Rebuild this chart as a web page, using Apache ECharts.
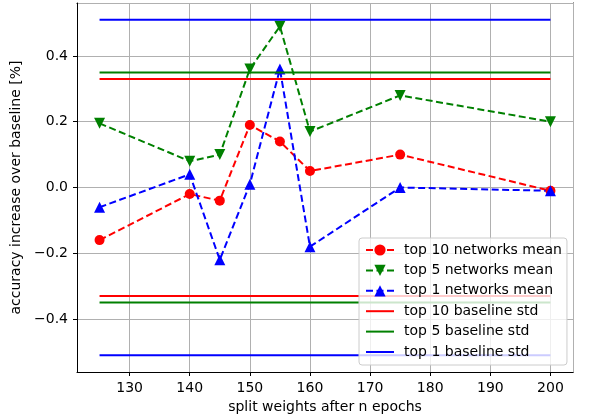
<!DOCTYPE html>
<html>
<head>
<meta charset="utf-8">
<script src="https://cdn.jsdelivr.net/npm/echarts@6/dist/echarts.min.js"></script>
<style>
  html, body { margin: 0; padding: 0; background: #fff; }
  #chart { width: 598px; height: 415px; }
</style>
</head>
<body>
<div id="chart"></div>
<script>
// epochs after which the weights were split
const epochs = [125, 140, 145, 150, 155, 160, 175, 200]
// mean accuracy increase over baseline [%]
const top10Mean = [-0.16, -0.02, -0.04, 0.19, 0.14, 0.05, 0.10, -0.01]
const top5Mean = [0.195, 0.08, 0.10, 0.36, 0.49, 0.17, 0.28, 0.20]
const top1Mean = [-0.06, 0.04, -0.22, 0.01, 0.36, -0.18, 0.00, -0.01]
// baseline std (drawn as +/- lines)
const top10Std = 0.33
const top5Std = 0.35
const top1Std = 0.51
const stdRange = [125, 200]

const FONT = 'DejaVu Sans'

const chart = echarts.init(document.getElementById('chart'))

const pair = (xs, ys) => xs.map((x, i) => [x, ys[i]])
const hline = (y) => stdRange.map(x => [x, y])

const meanSeries = (name, color, symbol, size, values) => ({
  name: name,
  type: 'line',
  data: pair(epochs, values),
  symbol: symbol,
  symbolSize: size,
  showSymbol: true,
  itemStyle: { color: color },
  lineStyle: { color: color, width: 2, type: [7, 3.5] },
  animation: false,
  z: 2
})

const stdSeries = (name, color, y) => ({
  name: name,
  type: 'line',
  data: hline(y),
  symbol: 'none',
  itemStyle: { color: color },
  lineStyle: { color: color, width: 2 },
  animation: false,
  z: 3
})

const triDown = 'path://M0,0 L10,0 L5,9 Z'
const lineIcon = 'path://M0,0 L28,0 L28,2 L0,2 Z'

// frame-only axes on top / right so the box is black on all sides
const frameAxis = {
  show: true,
  axisLine: { show: true, onZero: false, lineStyle: { color: '#000', width: 1 } },
  axisTick: { show: false },
  axisLabel: { show: false },
  splitLine: { show: false }
}

chart.setOption({
  backgroundColor: '#fff',
  textStyle: { fontFamily: FONT },
  grid: {
    left: 77, top: 3, right: 25, bottom: 43,
    outerBoundsMode: 'none',
    containLabel: false
  },
  xAxis: [{
    type: 'value',
    min: 121.25, max: 203.75,
    splitNumber: 8, minInterval: 10, maxInterval: 10,
    name: 'split weights after n epochs',
    nameLocation: 'middle',
    nameGap: 27,
    nameTextStyle: { fontFamily: FONT, fontSize: 14, color: '#000' },
    axisLine: { show: true, onZero: false, lineStyle: { color: '#000', width: 1 } },
    axisTick: { show: true, inside: false, length: 4, lineStyle: { color: '#000' } },
    axisLabel: {
      margin: 9, fontFamily: FONT, fontSize: 14, color: '#000',
      showMinLabel: false, showMaxLabel: false
    },
    splitLine: { show: true, lineStyle: { color: '#b0b0b0', width: 1 } },
    z: 1
  }, Object.assign({ type: 'value', position: 'top', min: 121.25, max: 203.75 }, frameAxis)],
  yAxis: [{
    type: 'value',
    min: -0.561, max: 0.561,
    splitNumber: 5, minInterval: 0.2, maxInterval: 0.2,
    name: 'accuracy increase over baseline [%]',
    nameLocation: 'middle',
    nameGap: 44,
    nameTextStyle: { fontFamily: FONT, fontSize: 14, color: '#000' },
    axisLine: { show: true, onZero: false, lineStyle: { color: '#000', width: 1 } },
    axisTick: { show: true, inside: false, length: 4, lineStyle: { color: '#000' } },
    axisLabel: {
      margin: 9, fontFamily: FONT, fontSize: 14, color: '#000',
      showMinLabel: false, showMaxLabel: false,
      formatter: v => (v < -1e-9 ? '\u2212' : '') + Math.abs(v).toFixed(1)
    },
    splitLine: { show: true, lineStyle: { color: '#b0b0b0', width: 1 } },
    z: 1
  }, Object.assign({ type: 'value', position: 'right', min: -0.561, max: 0.561 }, frameAxis)],
  legend: {
    orient: 'vertical',
    left: 359, top: 238,
    padding: [5, 5, 6, 6],
    itemWidth: 28, itemHeight: 14, itemGap: 6.4,
    backgroundColor: 'rgba(255,255,255,0.8)',
    borderColor: '#cccccc', borderWidth: 1, borderRadius: 3,
    textStyle: { fontFamily: FONT, fontSize: 14, color: '#000', padding: [0, 0, 0, 5] },
    data: [
      { name: 'top 10 networks mean' },
      { name: 'top 5 networks mean' },
      { name: 'top 1 networks mean' },
      { name: 'top 10 baseline std', icon: lineIcon },
      { name: 'top 5 baseline std', icon: lineIcon },
      { name: 'top 1 baseline std', icon: lineIcon }
    ],
    z: 10
  },
  series: [
    meanSeries('top 10 networks mean', '#ff0000', 'circle', 10, top10Mean),
    meanSeries('top 5 networks mean', '#008000', triDown, 11, top5Mean),
    meanSeries('top 1 networks mean', '#0000ff', 'triangle', 11, top1Mean),
    stdSeries('top 10 baseline std', '#ff0000', top10Std),
    stdSeries('top 10 baseline std', '#ff0000', -top10Std),
    stdSeries('top 5 baseline std', '#008000', top5Std),
    stdSeries('top 5 baseline std', '#008000', -top5Std),
    stdSeries('top 1 baseline std', '#0000ff', top1Std),
    stdSeries('top 1 baseline std', '#0000ff', -top1Std)
  ]
})
</script>
</body>
</html>
